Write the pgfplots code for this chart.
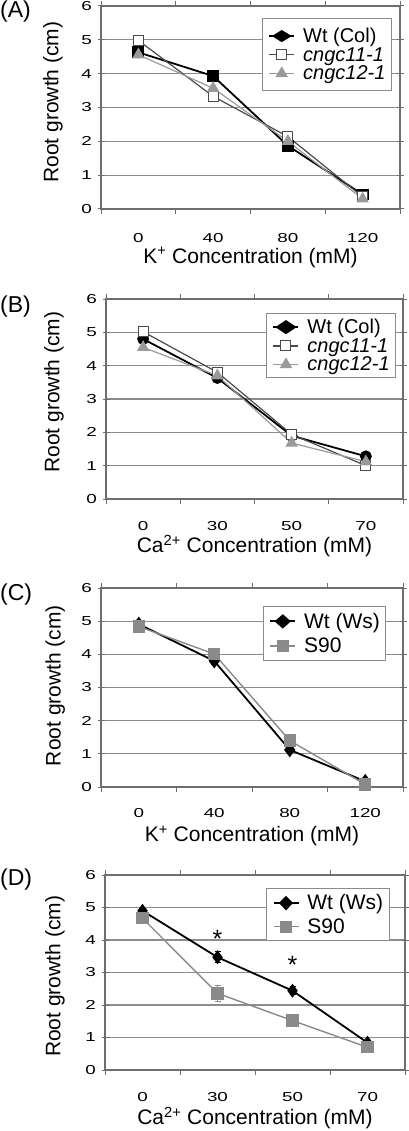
\documentclass[border=0pt]{standalone}
\usepackage{fontspec}
\setmainfont{Liberation Sans}
\newfontfamily\tickfont[FakeStretch=1.45]{Liberation Sans}
\usepackage{pgfplots}
\pgfplotsset{compat=1.18}
\definecolor{gridc}{HTML}{8C8C8C}
\definecolor{axc}{HTML}{6E6E6E}
\definecolor{c11}{HTML}{4A4A4A}
\definecolor{c12}{HTML}{9A9A9A}
\definecolor{s90}{HTML}{8A8A8A}
\pgfplotsset{
 panel/.style={
  scale only axis,
  xmin=-0.5, xmax=3.5, ymin=0, ymax=6,
  ytick={0,...,6},
  xtick={0,1,2,3},
  minor xtick={-0.5,0.5,1.5,2.5,3.5},
  xtick align=outside, ytick align=center,
  major tick length=7pt, minor tick length=5pt,
  major x tick style={draw=none},
  major y tick style={axc, line width=1pt},
  minor x tick style={axc, line width=1pt},
  ymajorgrids, grid style={gridc, line width=1.1pt},
  axis line style={axc, line width=1.1pt},
  /pgf/number format/assume math mode=true,
  tick label style={font=\tickfont\fontsize{13}{15}\selectfont},
  yticklabel style={xshift=-2pt},
  label style={font=\fontsize{21}{24}\selectfont},
  legend style={font=\fontsize{20}{22}\selectfont, draw=gridc, line width=1pt, fill=white,
     anchor=north west, inner xsep=6pt, column sep=8pt, nodes={inner sep=0pt}},
  legend cell align=left,
  legend image code/.code={\draw[mark repeat=2,mark phase=2,##1] plot coordinates {(0pt,0pt) (12.5pt,0pt) (25pt,0pt)};},
  error bars/error bar style={line width=1pt},
  error bars/error mark options={rotate=90, mark size=3pt, line width=1pt},
 },
 wt/.style={black, line width=1.8pt, mark options={solid, fill=black}},
 g11/.style={c11, line width=1.2pt, mark=square*, mark size=5pt, mark options={fill=white, draw=c11, line width=1pt}},
 g12/.style={c12, line width=1.2pt, mark=triangle*, mark size=6pt, mark options={fill=c12, draw=c12}},
 gs90/.style={s90, line width=1.4pt, mark=square*, mark size=5.5pt, mark options={fill=s90, draw=s90}},
}
\begin{document}
\begin{tikzpicture}
\useasboundingbox (0pt,0pt) rectangle (408pt,-1131pt);
% ---------------- (A)
\node[anchor=west, inner sep=0pt, font=\fontsize{23}{26}\selectfont] at (0pt,-12pt) {(A)};
\begin{axis}[panel, at={(101pt,-209pt)}, anchor=south west, width=299pt, height=203pt,
  xticklabels={0,40,80,120}, xticklabel style={yshift=-13.5pt},
  xlabel={K\textsuperscript{+} Concentration (mM)},
  xlabel style={at={(rel axis cs:0.5,0)}, anchor=center, yshift=-48.5pt},
  ylabel={Root growth (cm)},
  ylabel style={at={(rel axis cs:-0.1605,0.527)}, anchor=center},
  legend style={at={(rel axis cs:0.538,0.941)}, inner ysep=9.6pt, row sep=3.2pt}]
\addplot[wt, mark=square*, mark size=5pt, legend image post style={mark=diamond*, mark size=5pt, mark options={xscale=2.2, fill=black}}]
  coordinates {(0,4.63) (1,3.93) (2,1.87) (3,0.43)};
\addlegendentry{Wt (Col)}
\addplot[g11] coordinates {(0,4.98) (1,3.33) (2,2.14) (3,0.36)};
\addlegendentry{\textit{cngc11-1}}
\addplot[g12] coordinates {(0,4.56) (1,3.57) (2,2.00) (3,0.30)};
\addlegendentry{\textit{cngc12-1}}
\end{axis}
% ---------------- (B)
\node[anchor=west, inner sep=0pt, font=\fontsize{23}{26}\selectfont] at (0pt,-307pt) {(B)};
\begin{axis}[panel, at={(106pt,-499pt)}, anchor=south west, width=297pt, height=200pt,
  xticklabels={0,30,50,70}, xticklabel style={yshift=-11.5pt},
  xlabel={Ca\textsuperscript{2+} Concentration (mM)},
  xlabel style={at={(rel axis cs:0.5,0)}, anchor=center, yshift=-47pt},
  ylabel={Root growth (cm)},
  ylabel style={at={(rel axis cs:-0.175,0.535)}, anchor=center},
  legend style={at={(rel axis cs:0.539,0.93)}, inner ysep=5.6pt, row sep=3.2pt}]
\addplot[wt, mark=*, mark size=5pt, legend image post style={mark=diamond*, mark size=6pt, mark options={xscale=2.0, fill=black}}]
  coordinates {(0,4.80) (1,3.63) (2,1.90) (3,1.28)};
\addlegendentry{Wt (Col)}
\addplot[g11] coordinates {(0,5.02) (1,3.80) (2,1.94) (3,1.00)};
\addlegendentry{\textit{cngc11-1}}
\addplot[g12] coordinates {(0,4.55) (1,3.70) (2,1.68) (3,1.12)};
\addlegendentry{\textit{cngc12-1}}
\end{axis}
% ---------------- (C)
\node[anchor=west, inner sep=0pt, font=\fontsize{23}{26}\selectfont] at (0pt,-595pt) {(C)};
\begin{axis}[panel, at={(101pt,-787pt)}, anchor=south west, width=302pt, height=199pt,
  xticklabels={0,40,80,120}, xticklabel style={yshift=-10.5pt},
  xlabel={K\textsuperscript{+} Concentration (mM)},
  xlabel style={at={(rel axis cs:0.5,0)}, anchor=center, yshift=-49pt},
  ylabel={Root growth (cm)},
  ylabel style={at={(rel axis cs:-0.152,0.51)}, anchor=center},
  legend style={font=\fontsize{21}{24}\selectfont, at={(rel axis cs:0.536,0.91)}, inner ysep=6.6pt, row sep=8.3pt}]
\addplot[wt, mark=diamond*, mark size=6pt, legend image post style={mark options={xscale=1.5, fill=black}},
  error bars/.cd, y dir=both, y explicit]
  coordinates {(0,4.91) +- (0,0.05) (1,3.80) +- (0,0.12) (2,1.12) +- (0,0.06) (3,0.17) +- (0,0.05)};
\addlegendentry{Wt (Ws)}
\addplot[gs90, error bars/.cd, y dir=both, y explicit]
  coordinates {(0,4.84) +- (0,0.05) (1,4.01) +- (0,0.08) (2,1.40) +- (0,0.06) (3,0.08) +- (0,0.04)};
\addlegendentry{S90}
\end{axis}
% ---------------- (D)
\node[anchor=west, inner sep=0pt, font=\fontsize{23}{26}\selectfont] at (0pt,-880pt) {(D)};
\begin{axis}[panel, at={(105pt,-1070pt)}, anchor=south west, width=300pt, height=195pt,
  xticklabels={0,30,50,70}, xticklabel style={yshift=-11.5pt},
  xlabel={Ca\textsuperscript{2+} Concentration (mM)},
  xlabel style={at={(rel axis cs:0.5,0)}, anchor=center, yshift=-48pt},
  ylabel={Root growth (cm)},
  ylabel style={at={(rel axis cs:-0.167,0.48)}, anchor=center},
  legend style={font=\fontsize{21}{24}\selectfont, at={(rel axis cs:0.537,0.933)}, inner ysep=6.1pt, row sep=7.3pt}]
\addplot[wt, mark=diamond*, mark size=5.5pt, legend image post style={mark size=6pt, mark options={xscale=1.3, fill=black}},
  error bars/.cd, y dir=both, y explicit]
  coordinates {(0,4.90) +- (0,0.05) (1,3.47) +- (0,0.17) (2,2.44) +- (0,0.13) (3,0.84) +- (0,0.06)};
\addlegendentry{Wt (Ws)}
\addplot[gs90, error bars/.cd, y dir=both, y explicit]
  coordinates {(0,4.67) +- (0,0.08) (1,2.36) +- (0,0.25) (2,1.52) +- (0,0.12) (3,0.70) +- (0,0.05)};
\addlegendentry{S90}
\node[font=\fontsize{25}{27}\selectfont, inner sep=0pt, yshift=-6pt] at (axis cs:1,4.22) {*};
\node[font=\fontsize{25}{27}\selectfont, inner sep=0pt, yshift=-6pt] at (axis cs:2,3.43) {*};
\end{axis}
\end{tikzpicture}
\end{document}
